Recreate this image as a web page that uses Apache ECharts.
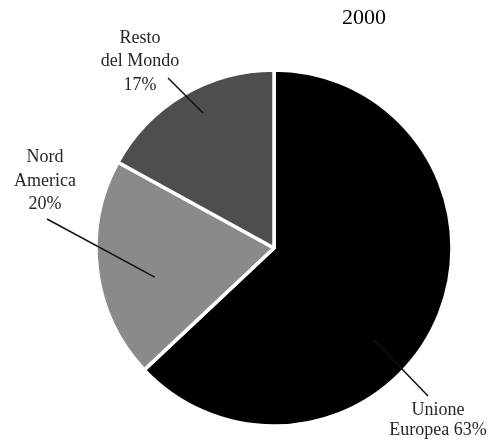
<!DOCTYPE html>
<html>
<head>
<meta charset="utf-8">
<script src="https://cdn.jsdelivr.net/npm/echarts@6/dist/echarts.min.js"></script>
<style>
  html, body { margin: 0; padding: 0; background: #ffffff; }
  #chart { width: 490px; height: 443px; }
</style>
</head>
<body>
<div id="chart"></div>
<script>
// Share of total by region, year 2000
const yearLabel = '2000';
const regions = ['Unione Europea', 'Nord America', 'Resto del Mondo'];
const nameLines = [['Unione', 'Europea'], ['Nord', 'America'], ['Resto', 'del Mondo']];
const shares = [63, 20, 17];
const sliceColors = ['#000000', '#8a8a8a', '#4e4e4e'];

// Pie geometry (px)
const CX = 274, CY = 248, R = 178;
const SERIF = 'Liberation Serif';

// Label placement: text anchor, leader-line end near the text,
// and where the leader enters the slice (angle offset from slice middle, radius fraction)
const labelPlacement = [
  { at: [438, 420], lineEnd: [428, 396], dAngle: 19.2, r: 0.76, lineHeight: 20, pctInline: true },
  { at: [45, 181],  lineEnd: [47, 219],  dAngle: -6.5, r: 0.69, lineHeight: 23.5, pctInline: false },
  { at: [140, 61.5], lineEnd: [168, 78], dAngle: 2.9,  r: 0.857, lineHeight: 23.5, pctInline: false }
];

const total = shares.reduce((a, b) => a + b, 0);
function midAngle(i) {
  let s = 0;
  for (let k = 0; k < i; k++) s += shares[k];
  return (s + shares[i] / 2) / total * 360;
}

function labelText(i) {
  const pct = shares[i] + '%';
  const lines = nameLines[i].slice();
  if (labelPlacement[i].pctInline) lines[lines.length - 1] += ' ' + pct;
  else lines.push(pct);
  const tag = i === 0 ? 't' : 'w';
  return lines.map(s => '{' + tag + '|' + s + '}').join('\n');
}

// Leader line from inside each slice out to its label
function leaderLine(i) {
  const L = labelPlacement[i];
  const a = (midAngle(i) + L.dAngle) * Math.PI / 180;
  const inner = [CX + R * L.r * Math.sin(a), CY - R * L.r * Math.cos(a)];
  return {
    type: 'line',
    z: 100,
    silent: true,
    shape: { x1: inner[0], y1: inner[1], x2: L.lineEnd[0], y2: L.lineEnd[1] },
    style: { stroke: '#111111', lineWidth: 1.5 }
  };
}

const labelFont = { fontFamily: SERIF, fontSize: 18, color: '#262626', align: 'center' };

const chart = echarts.init(document.getElementById('chart'), null, { renderer: 'canvas' });

chart.setOption({
  backgroundColor: '#ffffff',
  animation: false,
  textStyle: { fontFamily: SERIF },
  title: {
    text: yearLabel,
    left: 342,
    top: 7,
    padding: 0,
    textStyle: { fontFamily: SERIF, fontSize: 22, fontWeight: 'normal', color: '#000000' }
  },
  graphic: regions.map((_, i) => leaderLine(i)),
  series: [{
    type: 'pie',
    center: [CX, CY],
    radius: R,
    startAngle: 90,
    clockwise: true,
    avoidLabelOverlap: false,
    emphasis: { disabled: true },
    itemStyle: { borderColor: '#ffffff', borderWidth: 3.5 },
    label: {
      show: true,
      position: 'outside',
      fontFamily: SERIF,
      fontSize: 18,
      color: '#262626',
      formatter: p => labelText(p.dataIndex),
      rich: {
        t: Object.assign({ lineHeight: 20 }, labelFont),
        w: Object.assign({ lineHeight: 23.5 }, labelFont)
      }
    },
    labelLine: { show: false },
    labelLayout: p => {
      const L = labelPlacement[p.dataIndex];
      return {
        x: L.at[0],
        y: L.at[1],
        align: 'center',
        verticalAlign: 'middle',
        hideOverlap: false
      };
    },
    data: regions.map((name, i) => ({
      name: name,
      value: shares[i],
      itemStyle: { color: sliceColors[i] }
    }))
  }]
});
</script>
</body>
</html>
